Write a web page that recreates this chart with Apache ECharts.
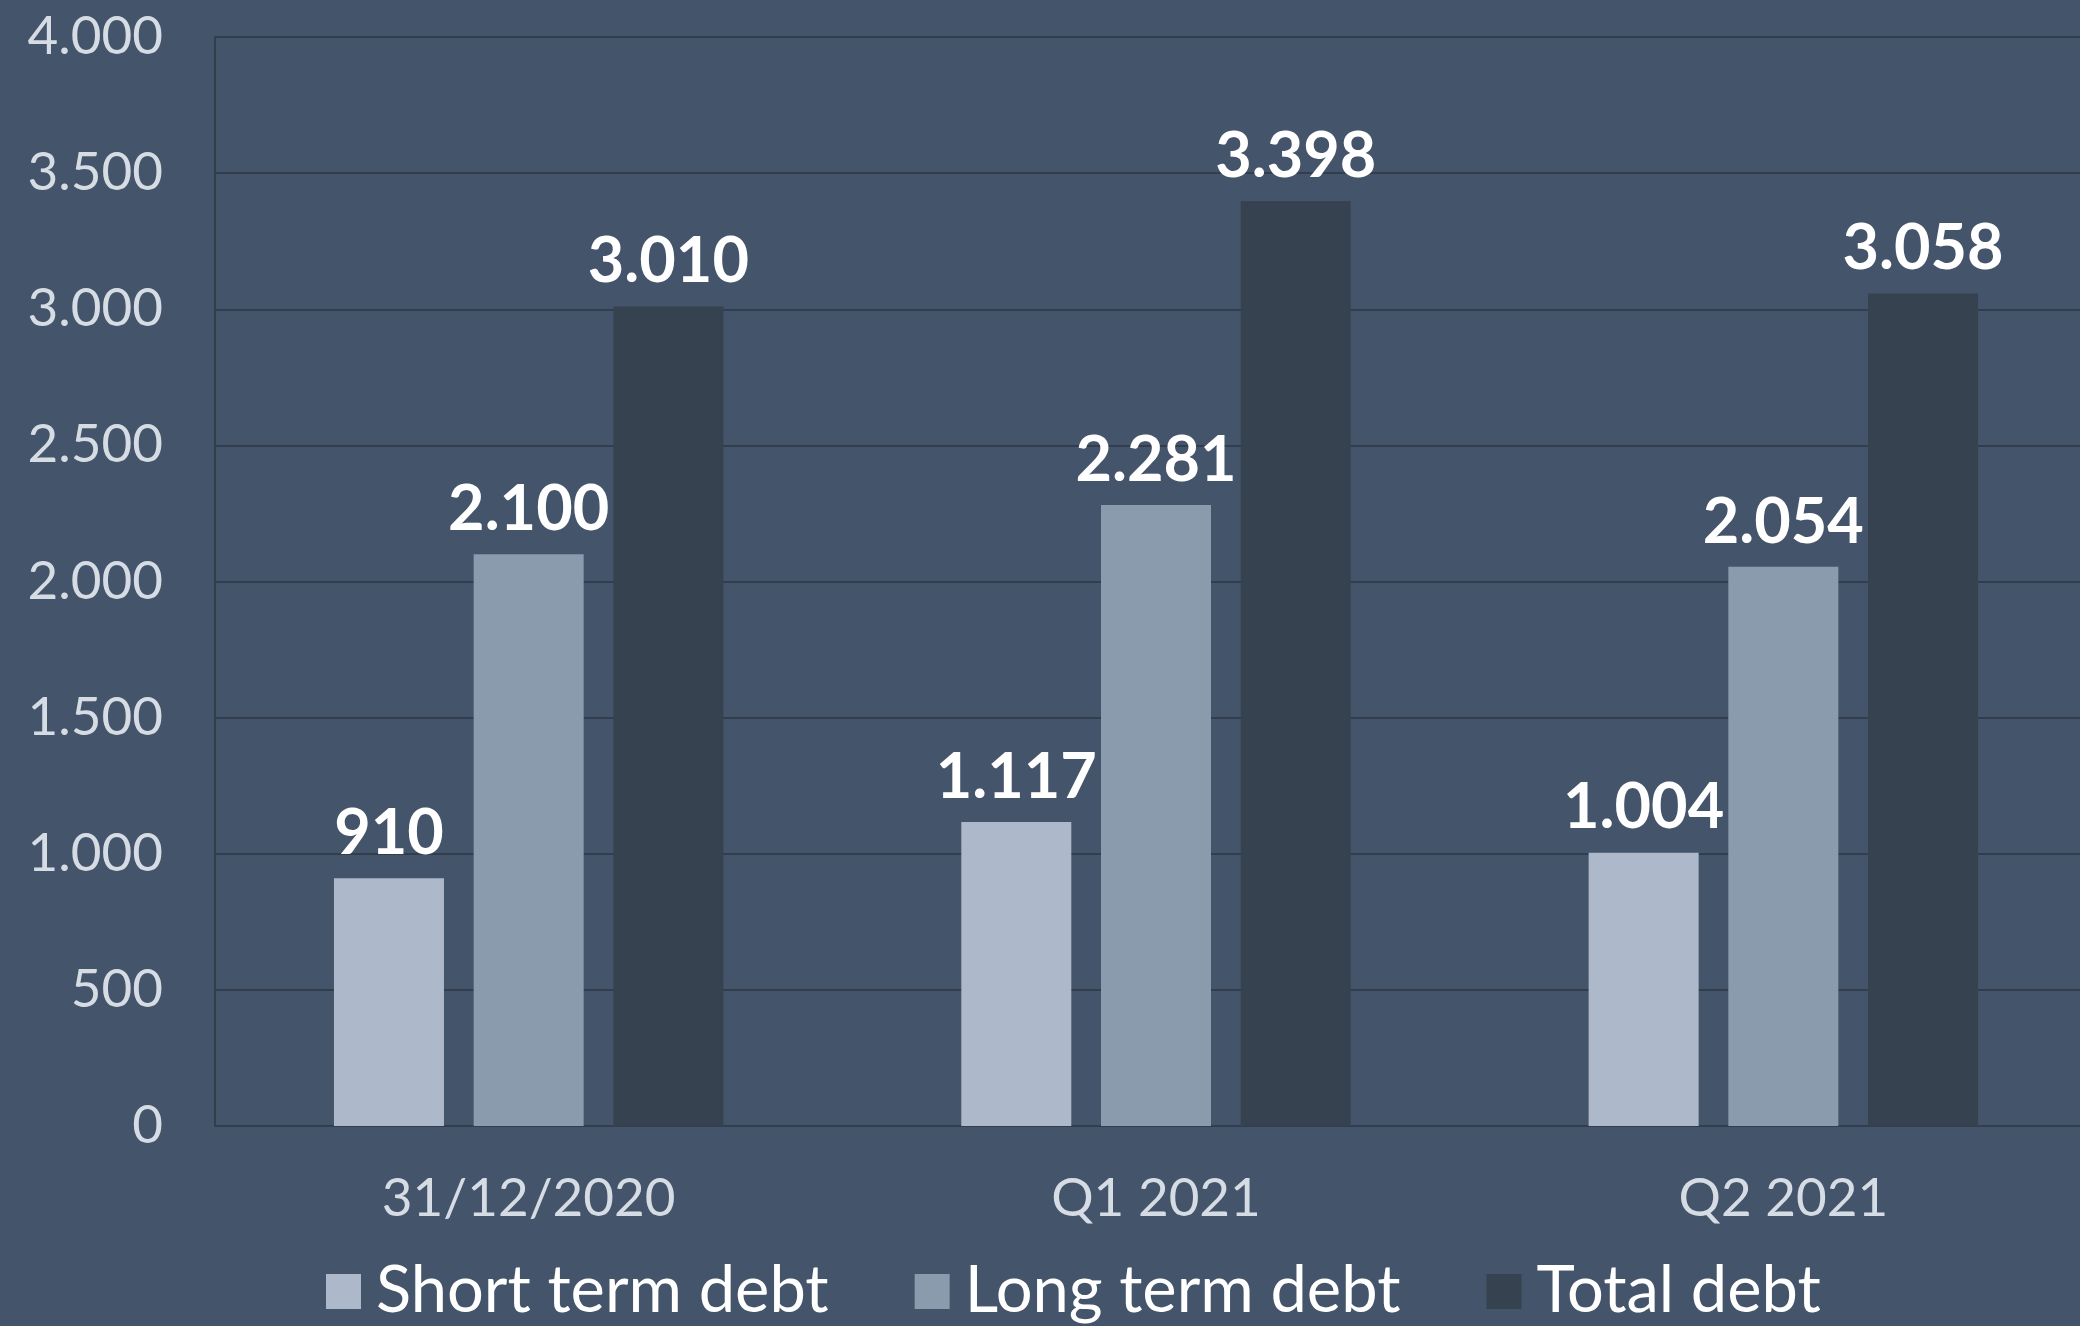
<!DOCTYPE html>
<html>
<head>
<meta charset="utf-8">
<script src="https://cdn.jsdelivr.net/npm/echarts@6/dist/echarts.min.js"></script>
<style>
    html, body { margin: 0; padding: 0; background: #44546a; overflow: hidden; }
    /* the plot runs a little past the right edge in the original */
    #debtChart { width: 2100px; height: 1326px; }
</style>
</head>
<body>
<div id="debtChart"></div>
<script>
var categories = ['31/12/2020', 'Q1 2021', 'Q2 2021'];
var shortTermDebt = [910, 1117, 1004];
var longTermDebt = [2100, 2281, 2054];
var totalDebt = [3010, 3398, 3058];
var seriesNames = ['Short term debt', 'Long term debt', 'Total debt'];

function fmt(v) {
    // thousands separator is a dot in the original
    return String(v).replace(/\B(?=(\d{3})+(?!\d))/g, '.');
}

function debtChartInit() {

    var chartDom = document.getElementById('debtChart');
    var myChart = echarts.init(chartDom);
    var option;

    var barLabel = {
        show: true,
        position: 'top',
        distance: 13,
        color: '#ffffff',
        fontFamily: 'Lato',
        fontWeight: 'bold',
        fontSize: 63,
        formatter: function (p) { return fmt(p.value); }
    };

    option = {
        backgroundColor: '#44546a',
        animation: false,
        textStyle: { fontFamily: 'Lato' },
        grid: {
            left: 215,
            top: 37,
            width: 1882,
            height: 1089
        },
        legend: {
            left: 326,
            top: 1259,
            padding: 0,
            itemWidth: 35,
            itemHeight: 35,
            itemGap: 86,
            icon: 'rect',
            textStyle: {
                color: '#ffffff',
                fontFamily: 'Lato',
                fontSize: 65,
                padding: [0, 0, 0, 10]
            },
            data: seriesNames
        },
        xAxis: {
            type: 'category',
            data: categories,
            axisLine: { lineStyle: { color: '#323e4d', width: 2 } },
            axisTick: { length: 18, lineStyle: { color: '#323e4d', width: 2 } },
            axisLabel: {
                margin: 46,
                color: '#d6dce4',
                fontFamily: 'Lato',
                fontSize: 53
            }
        },
        yAxis: {
            type: 'value',
            min: 0,
            max: 4000,
            interval: 500,
            axisLine: { show: true, lineStyle: { color: '#323e4d', width: 2 } },
            axisTick: { show: false },
            splitLine: { lineStyle: { color: '#323e4d', width: 2 } },
            axisLabel: {
                margin: 52,
                color: '#d6dce4',
                fontFamily: 'Lato',
                fontSize: 53,
                formatter: fmt
            }
        },
        series: [
            {
                name: seriesNames[0],
                type: 'bar',
                data: shortTermDebt,
                barWidth: 110,
                barGap: '27%',
                itemStyle: { color: '#adb9ca' },
                label: barLabel
            },
            {
                name: seriesNames[1],
                type: 'bar',
                data: longTermDebt,
                barWidth: 110,
                barGap: '27%',
                itemStyle: { color: '#8a9bae' },
                label: barLabel
            },
            {
                name: seriesNames[2],
                type: 'bar',
                data: totalDebt,
                barWidth: 110,
                barGap: '27%',
                itemStyle: { color: '#36424f' },
                label: barLabel
            }
        ]
    };

    option && myChart.setOption(option);
}

debtChartInit();
</script>
</body>
</html>
